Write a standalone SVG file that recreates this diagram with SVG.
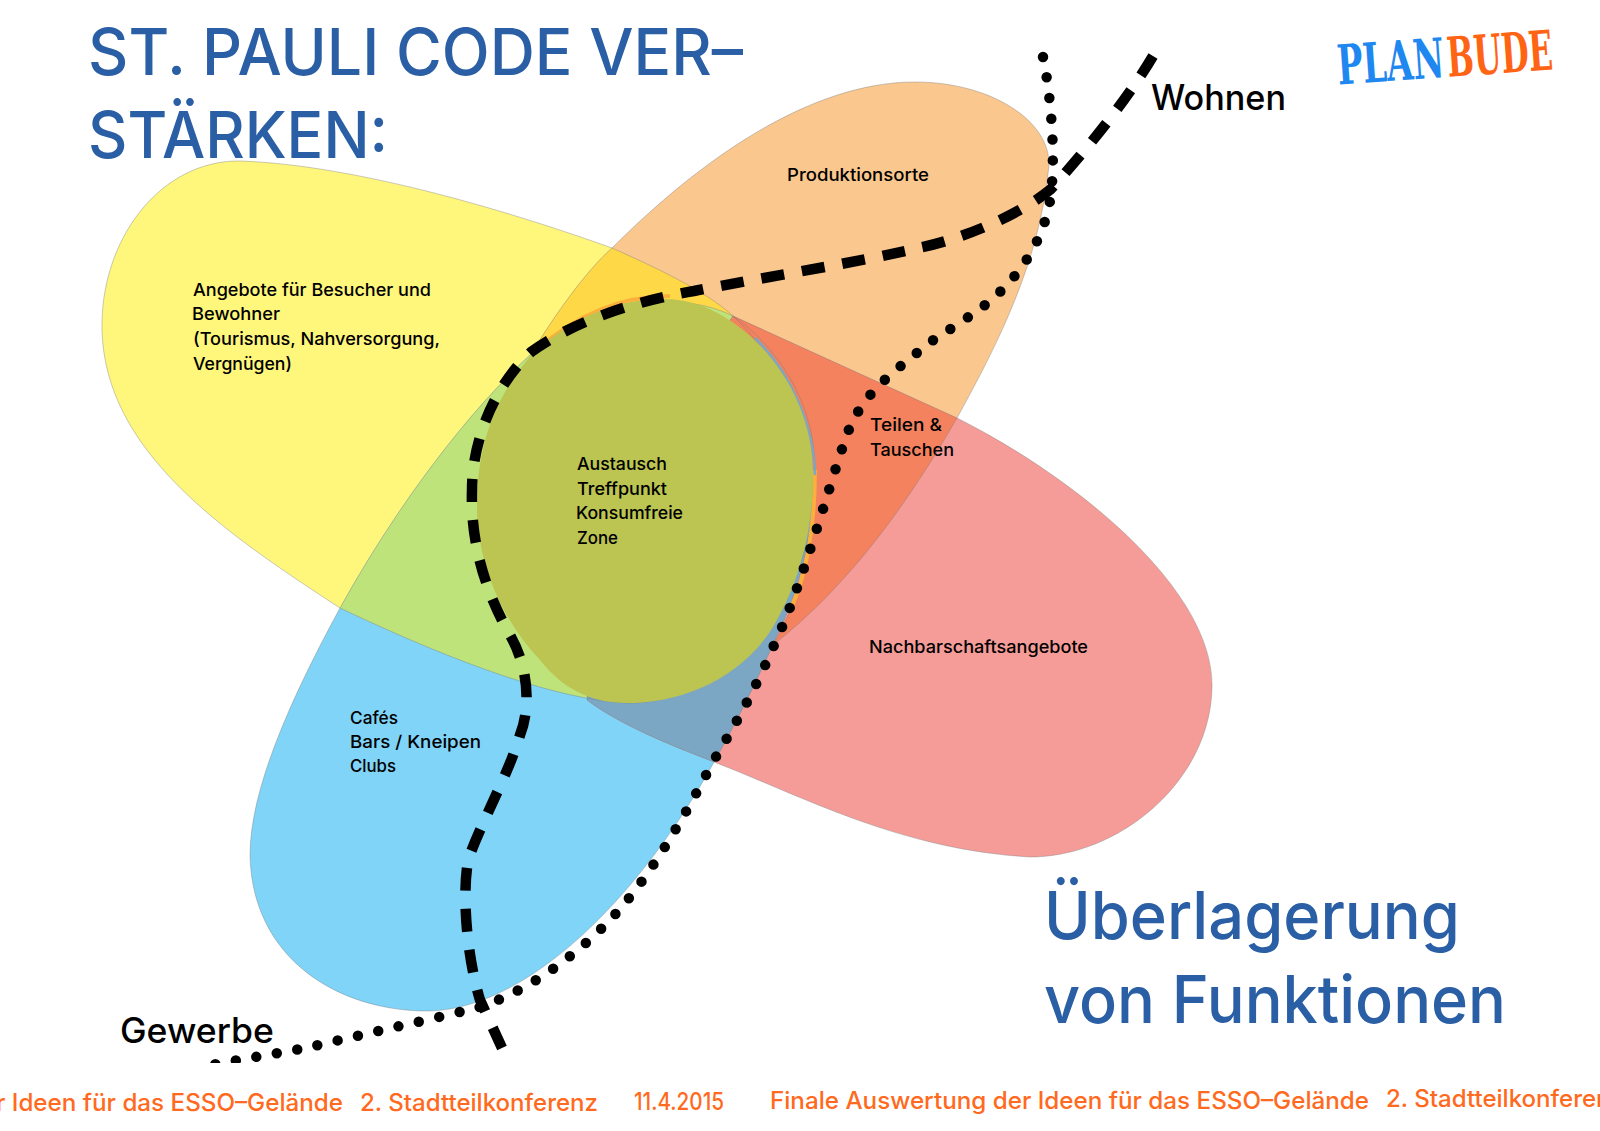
<svg xmlns="http://www.w3.org/2000/svg" xmlns:xlink="http://www.w3.org/1999/xlink" width="1600" height="1131" viewBox="0 0 1600 1131">
<style>
text{font-family:"Inter","Liberation Sans",sans-serif}
.l{font-size:17.5px;font-weight:500;fill:#000}
.t{font-size:64px;font-weight:500;fill:#2a5fa5}
.b{font-size:66px;font-weight:500;fill:#2a5fa5}
.s{font-size:35px;font-weight:500;fill:#000}
.f{font-size:24px;font-weight:500;fill:#ff6a20}
.logo{font-family:"DejaVu Serif",serif;font-size:55px;font-weight:700}
.edge{fill:none;stroke:#777;stroke-opacity:.55;stroke-width:.7}
.dash{fill:none;stroke:#000;stroke-width:10.5;stroke-dasharray:23 18}
.dot{fill:none;stroke:#000;stroke-width:10.5;stroke-linecap:round;stroke-dasharray:0 20.8}
</style>
<defs>
<path id="py" d="M102,330 C100,240 160,160 240,161 C360,165 520,215 612,248 C650,265 705,290 733,316 C790,370 816,440 816,480 C816,590 730,705 627,703 C560,700 460,665 340,608 C220,530 105,450 102,330 Z"/>
<path id="pb" d="M531,354 C470,410 400,500 340,608 C290,700 250,790 250,855 C252,960 340,1012 430,1011 C525,1008 635,905 714,762 C735,725 755,685 775,640 C800,590 815,530 815,470 C815,400 775,345 733,316 C670,285 590,310 531,354 Z"/>
<path id="po" d="M531,354 C555,315 585,272 612,248 C700,160 810,82 915,82 C990,82 1050,120 1049,165 C1040,260 1000,340 957,418 C910,500 850,585 773,645 C800,600 817,530 816,470 L600,450 Z"/>
<path id="pp" d="M733,316 L957,418 C1080,480 1212,590 1212,685 C1212,780 1120,857 1030,857 C900,850 800,795 714,762 C670,745 620,725 587,700 L600,500 Z"/>
<clipPath id="cy"><use href="#py"/></clipPath>
<clipPath id="cb"><use href="#pb"/></clipPath>
<clipPath id="co"><use href="#po"/></clipPath>
<clipPath id="cp"><use href="#pp"/></clipPath>
<clipPath id="page"><rect x="0" y="0" width="1600" height="1063"/></clipPath>
</defs>
<rect width="1600" height="1131" fill="#fff"/>

<g id="besucher">
<use href="#py" fill="#fff67c"/>
<text class="l"><tspan x="193" y="296" textLength="238" lengthAdjust="spacingAndGlyphs">Angebote für Besucher und</tspan><tspan x="192" y="320" textLength="88" lengthAdjust="spacingAndGlyphs">Bewohner</tspan><tspan x="193" y="345" textLength="247" lengthAdjust="spacingAndGlyphs">(Tourismus, Nahversorgung,</tspan><tspan x="193" y="370" textLength="99" lengthAdjust="spacingAndGlyphs">Vergnügen)</tspan></text>
</g>
<g id="cafes">
<use href="#pb" fill="#7fd4f8"/>
<text class="l"><tspan x="350" y="724" textLength="48" lengthAdjust="spacingAndGlyphs">Cafés</tspan><tspan x="350" y="748" textLength="131" lengthAdjust="spacingAndGlyphs">Bars / Kneipen</tspan><tspan x="350" y="772" textLength="46" lengthAdjust="spacingAndGlyphs">Clubs</tspan></text>
</g>
<g id="produktion">
<use href="#po" fill="#fac78e"/>
<text class="l" x="787" y="181" textLength="142" lengthAdjust="spacingAndGlyphs">Produktionsorte</text>
</g>
<g id="nachbarschaft">
<use href="#pp" fill="#f69c98"/>
<text class="l" x="869" y="653" textLength="219" lengthAdjust="spacingAndGlyphs">Nachbarschaftsangebote</text>
</g>
<g id="overlap-yo" clip-path="url(#cy)"><use href="#po" fill="#ffd848"/></g>
<g id="overlap-yb" clip-path="url(#cy)"><use href="#pb" fill="#bfe37b"/></g>
<g id="overlap-bp" clip-path="url(#cb)"><use href="#pp" fill="#7ba6c4"/></g>
<g id="teilen">
<g clip-path="url(#co)"><use href="#pp" fill="#f5825f"/></g>
<text class="l"><tspan x="870" y="431" textLength="72" lengthAdjust="spacingAndGlyphs">Teilen &amp;</tspan><tspan x="870" y="456" textLength="84" lengthAdjust="spacingAndGlyphs">Tauschen</tspan></text>
</g>
<g id="edges">
<use href="#py" class="edge"/><use href="#pb" class="edge"/><use href="#po" class="edge"/><use href="#pp" class="edge"/>
</g>
<g id="austausch">
<path d="M533,353 C575,315 620,296 670,296" fill="none" stroke="#fbb03b" stroke-width="4"/>
<path d="M815,470 C815,530 805,580 790,610" fill="none" stroke="#fbb03b" stroke-width="4"/>
<path d="M755,338 C790,372 814,425 815,475" fill="none" stroke="#7ba6c4" stroke-width="2.5"/>
<path d="M665,299 C735,299 813,380 813,473 C813,540 795,590 773,627 C740,680 680,703 627,703 C590,703 562,688 540,660 C500,618 477,560 477,507 C477,440 497,395 533,353 C575,315 620,299 665,299 Z" fill="#bcc452"/>
<text class="l"><tspan x="577" y="470" textLength="90" lengthAdjust="spacingAndGlyphs">Austausch</tspan><tspan x="577" y="495" textLength="90" lengthAdjust="spacingAndGlyphs">Treffpunkt</tspan><tspan x="576" y="519" textLength="107" lengthAdjust="spacingAndGlyphs">Konsumfreie</tspan><tspan x="577" y="544" textLength="41" lengthAdjust="spacingAndGlyphs">Zone</tspan></text>
</g>
<g id="connectors" clip-path="url(#page)">
<path class="dot" d="M1043,57 C1050,90 1056,150 1051,194 C1045,240 1020,275 990,301 C960,325 930,340 918,352 C890,375 860,395 845,440 C825,500 800,590 775,643 C755,690 735,725 714,760 C680,825 645,885 605,925 C575,955 530,990 480,1007 C420,1022 350,1037 306,1048 L205,1066"/>
<path class="dash" d="M1153,56 C1130,95 1095,140 1051,189 C1020,215 960,240 918,248 C860,262 760,278 694,291 C640,300 575,320 531,352 C495,385 472,440 472,490 C470,550 490,600 510,635 C530,670 530,710 520,735 C510,770 485,815 469,857 C462,885 465,950 480,1000 L502,1048"/>
</g>
<g id="titel">
<text class="t" x="88" y="75" textLength="655" lengthAdjust="spacingAndGlyphs">ST. PAULI CODE VER–</text>
<text class="t" x="88" y="158" textLength="300" lengthAdjust="spacingAndGlyphs">STÄRKEN:</text>
</g>
<g id="wohnen"><text class="s" x="1151" y="110" textLength="135" lengthAdjust="spacingAndGlyphs">Wohnen</text></g>
<g id="gewerbe"><text class="s" x="120" y="1043" textLength="154" lengthAdjust="spacingAndGlyphs">Gewerbe</text></g>
<g id="ueberlagerung">
<text class="b" x="1044" y="939" textLength="416" lengthAdjust="spacingAndGlyphs">Überlagerung</text>
<text class="b" x="1044" y="1023" textLength="462" lengthAdjust="spacingAndGlyphs">von Funktionen</text>
</g>
<g id="logo" transform="rotate(-4 1445 60)">
<text class="logo" x="1337" y="77" textLength="107" lengthAdjust="spacingAndGlyphs" fill="#1e88f0">PLAN</text>
<text class="logo" x="1447" y="77" textLength="106" lengthAdjust="spacingAndGlyphs" fill="#ff6414">BUDE</text>
</g>
<g id="fusszeile">
<text class="f" x="-4" y="1111" textLength="347" lengthAdjust="spacingAndGlyphs">r Ideen für das ESSO–Gelände</text>
<text class="f" x="360" y="1111" textLength="238" lengthAdjust="spacingAndGlyphs">2. Stadtteilkonferenz</text>
<text class="f" x="634" y="1110" textLength="90" lengthAdjust="spacingAndGlyphs">11.4.2015</text>
<text class="f" x="770" y="1109" textLength="599" lengthAdjust="spacingAndGlyphs">Finale Auswertung der Ideen für das ESSO–Gelände</text>
<text class="f" x="1386" y="1107" textLength="238" lengthAdjust="spacingAndGlyphs">2. Stadtteilkonferenz</text>
</g>
</svg>
